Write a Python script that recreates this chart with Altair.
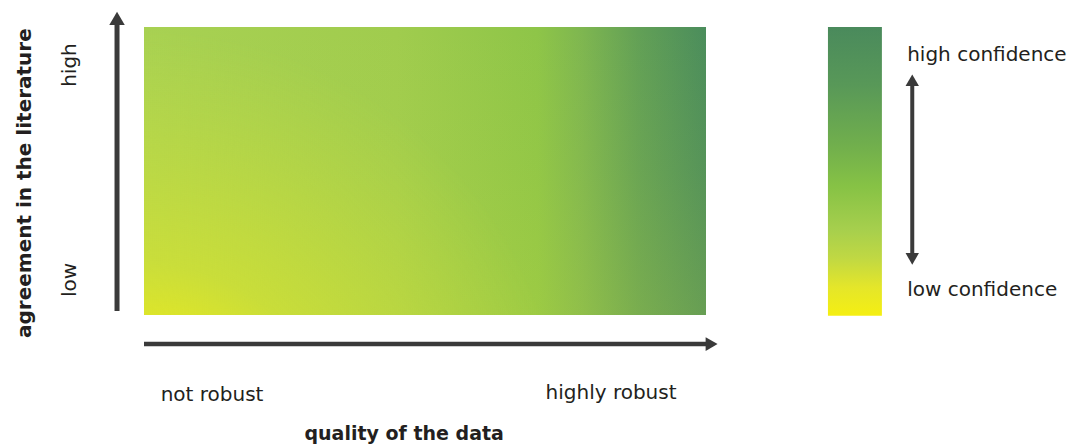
import altair as alt
import pandas as pd

# ---- text content ----
quality_labels = ["not robust", "highly robust"]
quality_label_x = [0.121, 0.831]
quality_label_y = [-0.278, -0.271]

agreement_labels = ["low", "high"]
agreement_label_x = [-0.132, -0.132]
agreement_label_y = [0.122, 0.868]

confidence_labels = ["low confidence", "high confidence"]
confidence_label_x = [1.358, 1.358]
confidence_label_y = [0.087, 0.903]

axis_titles = ["agreement in the literature", "quality of the data"]
axis_title_x = [-0.212, 0.463]
axis_title_y = [0.458, -0.413]

# ---- extents (data units: quality 0..1, agreement/confidence 0..1) ----
box_x = [0.0, 1.0]
box_y = [0.0, 1.0]
bar_x = [1.217, 1.313]
bar_y = [-0.003, 1.0]

# arrows: [x_start, x_end, y_start, y_end]
y_arrow = [-0.048, -0.048, 0.014, 1.01]
y_arrow_head = [-0.048, 1.03]
x_arrow = [0.0, 1.0, -0.101, -0.101]
x_arrow_head = [1.01, -0.101]
conf_arrow = [1.367, 1.367, 0.20, 0.81]
conf_heads_y = [0.195, 0.815]

# ---- colours ----
quality_offsets = [0.0, 0.45, 0.7, 0.78, 0.88, 1.0]
quality_colors = ["#a8d152", "#a0cc4e", "#8ec548", "#7eb650", "#62a056", "#4b8d5c"]
vertical_offsets = [0.0, 0.5, 1.0]
vertical_colors = ["rgba(215,226,50,0)", "rgba(215,226,50,0.08)", "rgba(215,226,50,0.2)"]
corner_offsets = [0.0, 0.2, 0.45, 1.0]
corner_colors = ["rgba(250,240,12,1)", "rgba(244,238,20,0.95)", "rgba(228,232,40,0.5)", "rgba(215,228,55,0)"]
bar_offsets = [0.0, 0.2, 0.42, 0.55, 0.7, 0.8, 0.9, 1.0]
bar_colors = ["#4a8a5c", "#589858", "#72b04c", "#86c245", "#a6cf4d", "#c0d843", "#e4e62a", "#f5ef12"]

ink = "#231f20"
arrow_ink = "#3a3a3a"
font = "DejaVu Sans"

xs = alt.Scale(domain=[0, 1], nice=False, zero=False)
ys = alt.Scale(domain=[0, 1], nice=False, zero=False)


def stops(offsets, colors):
    return [{"offset": o, "color": c} for o, c in zip(offsets, colors)]


def rect_layer(xv, yv, fill):
    df = pd.DataFrame({"x0": [xv[0]], "x1": [xv[1]], "y0": [yv[0]], "y1": [yv[1]]})
    return alt.Chart(df).mark_rect(fill=fill, strokeWidth=0).encode(
        x=alt.X("x0:Q", scale=xs, axis=None),
        x2="x1:Q",
        y=alt.Y("y0:Q", scale=ys, axis=None),
        y2="y1:Q",
    )


box_h = rect_layer(box_x, box_y, {"gradient": "linear", "x1": 0, "y1": 0, "x2": 1, "y2": 0,
                                  "stops": stops(quality_offsets, quality_colors)})
box_v = rect_layer(box_x, box_y, {"gradient": "linear", "x1": 0, "y1": 0, "x2": 0, "y2": 1,
                                  "stops": stops(vertical_offsets, vertical_colors)})
box_c = rect_layer(box_x, box_y, {"gradient": "radial", "x1": 0, "y1": 1, "r1": 0,
                                  "x2": 0, "y2": 1, "r2": 0.75,
                                  "stops": stops(corner_offsets, corner_colors)})
bar = rect_layer(bar_x, bar_y, {"gradient": "linear", "x1": 0, "y1": 0, "x2": 0, "y2": 1,
                                "stops": stops(bar_offsets, bar_colors)})


def rule_layer(a, width):
    df = pd.DataFrame({"xa": [a[0]], "xb": [a[1]], "ya": [a[2]], "yb": [a[3]]})
    return alt.Chart(df).mark_rule(color=arrow_ink, strokeWidth=width).encode(
        x=alt.X("xa:Q", scale=xs), x2="xb:Q", y=alt.Y("ya:Q", scale=ys), y2="yb:Q")


def head_layer(xv, yv, shape, size):
    df = pd.DataFrame({"x": xv, "y": yv})
    return alt.Chart(df).mark_point(shape=shape, filled=True, color=arrow_ink,
                                    size=size, opacity=1).encode(
        x=alt.X("x:Q", scale=xs), y=alt.Y("y:Q", scale=ys))


arrows = [
    rule_layer(y_arrow, 5),
    head_layer([y_arrow_head[0]], [y_arrow_head[1]], "triangle-up", 240),
    rule_layer(x_arrow, 4.5),
    head_layer([x_arrow_head[0]], [x_arrow_head[1]], "triangle-right", 190),
    rule_layer(conf_arrow, 4),
    head_layer([conf_arrow[0]], [conf_heads_y[1]], "triangle-up", 180),
    head_layer([conf_arrow[0]], [conf_heads_y[0]], "triangle-down", 180),
]


def text_layer(labels, xv, yv, angle=0, bold=False, align="center", size=20):
    df = pd.DataFrame({"label": labels, "x": xv, "y": yv})
    return alt.Chart(df).mark_text(font=font, fontSize=size, angle=angle, align=align,
                                   baseline="middle", color=ink,
                                   fontWeight="bold" if bold else "normal").encode(
        x=alt.X("x:Q", scale=xs), y=alt.Y("y:Q", scale=ys), text="label:N")


texts = [
    text_layer(quality_labels, quality_label_x, quality_label_y),
    text_layer(agreement_labels, agreement_label_x, agreement_label_y, angle=270),
    text_layer(confidence_labels, confidence_label_x, confidence_label_y, align="left"),
    text_layer([axis_titles[0]], [axis_title_x[0]], [axis_title_y[0]], angle=270, bold=True),
    text_layer([axis_titles[1]], [axis_title_x[1]], [axis_title_y[1]], bold=True, size=19),
]

chart = alt.layer(box_h, box_v, box_c, bar, *arrows, *texts).properties(
    width=562, height=288,
    autosize=alt.AutoSizeParams(type="none"),
    padding={"left": 136, "top": 19, "right": 366, "bottom": 130},
).configure_view(stroke=None)

chart.save("out.html", embed_options={"renderer": "svg", "actions": False})
